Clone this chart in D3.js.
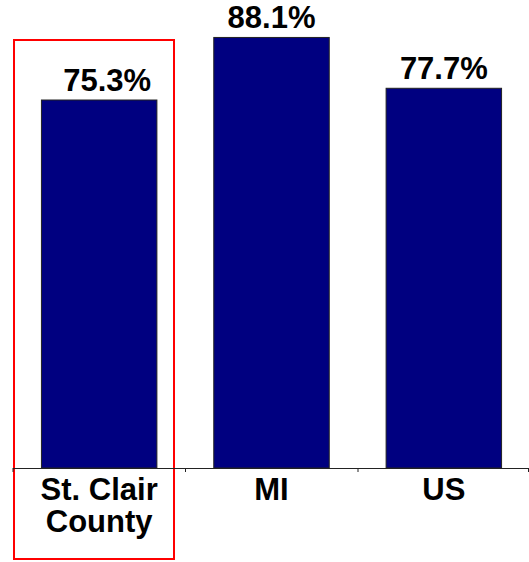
<!DOCTYPE html>
<html>
<head>
  <meta charset="utf-8">
  <title>Bar chart</title>
  <script src="https://d3js.org/d3.v7.min.js"></script>
  <style type="text/css">
    body { margin: 0; background: #fff; }
    svg text { font-family: "Liberation Sans", Arial, sans-serif; font-weight: bold; }
  </style>
</head>
<body>
  <div id="chart"></div>
<script type="text/javascript">
  const categories = ['St. Clair County', 'MI', 'US'];
  const categoryLines = [['St. Clair', 'County'], ['MI'], ['US']];
  const values = [75.3, 88.1, 77.7];
  const valueLabels = ['75.3%', '88.1%', '77.7%'];

  const width = 529, height = 562;
  const baseY = 468;

  const svg = d3.select('#chart')
    .append('svg')
      .attr('width', width)
      .attr('height', height);

  const x = d3.scaleBand()
    .domain(categories)
    .range([13, 530])
    .paddingInner(0.33)
    .paddingOuter(0.165);

  const y = d3.scaleLinear()
    .domain([0, 100])
    .range([baseY, baseY - 488.7]);

  // highlight box round the first category
  svg.append('rect')
    .attr('x', 14)
    .attr('y', 40)
    .attr('width', 160)
    .attr('height', 519)
    .attr('fill', 'none')
    .attr('stroke', '#ff0000')
    .attr('stroke-width', 2);

  svg.selectAll('rect.bar').data(values).enter()
    .append('rect')
      .attr('class', 'bar')
      .attr('x', (d, i) => x(categories[i]))
      .attr('y', d => y(d))
      .attr('width', x.bandwidth())
      .attr('height', d => baseY - y(d))
      .attr('fill', '#000080')
      .attr('stroke', '#222')
      .attr('stroke-width', 1);

  svg.selectAll('text.value').data(values).enter()
    .append('text')
      .attr('class', 'value')
      .attr('x', (d, i) => x(categories[i]) + x.bandwidth() / 2 + (i === 0 ? 8 : 0))
      .attr('y', d => y(d) - 9)
      .attr('text-anchor', 'middle')
      .attr('font-size', 31)
      .attr('fill', '#000')
      .text((d, i) => valueLabels[i]);

  // axis with ticks between categories
  const step = x.step();
  const edges = [13].concat(categories.map(c => x(c) - x.paddingInner() * x.bandwidth() / (1 - x.paddingInner()) / 2 + step));
  svg.append('line')
    .attr('x1', 13).attr('x2', width)
    .attr('y1', baseY + 0.5).attr('y2', baseY + 0.5)
    .attr('stroke', '#222')
    .attr('stroke-width', 1);
  const tickXs = [13, 185.5, 358, 528.5];
  svg.selectAll('line.tick').data(tickXs).enter()
    .append('line')
      .attr('class', 'tick')
      .attr('x1', d => d).attr('x2', d => d)
      .attr('y1', baseY).attr('y2', baseY + 4)
      .attr('stroke', '#222')
      .attr('stroke-width', 1);

  const catText = svg.selectAll('text.cat').data(categoryLines).enter()
    .append('text')
      .attr('class', 'cat')
      .attr('text-anchor', 'middle')
      .attr('font-size', 31)
      .attr('fill', '#000');
  catText.selectAll('tspan').data((d, i) => d.map(t => ({ t: t, i: i }))).enter()
    .append('tspan')
      .attr('x', d => x(categories[d.i]) + x.bandwidth() / 2)
      .attr('y', (d, j) => 500 + j * 31.5)
      .text(d => d.t);
</script>
</body>
</html>
